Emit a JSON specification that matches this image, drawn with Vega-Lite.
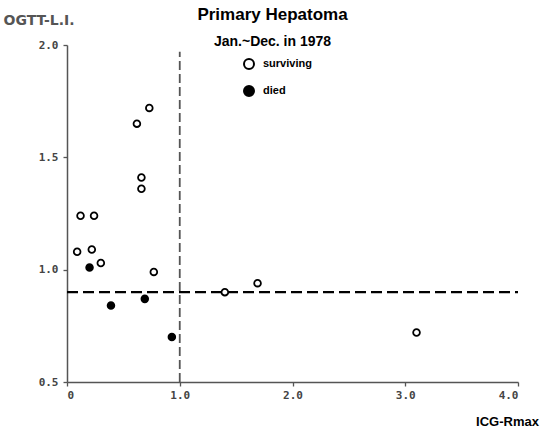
{
  "$schema": "https://vega.github.io/schema/vega-lite/v6.json",
  "width": 451,
  "height": 337,
  "autosize": "none",
  "padding": {"left": 67, "top": 45, "right": 30, "bottom": 47},
  "background": "white",
  "title": {
    "text": "Primary Hepatoma",
    "subtitle": "Jan.~Dec. in 1978",
    "anchor": "middle",
    "frame": "group",
    "dx": -20,
    "offset": -37,
    "font": "Liberation Sans",
    "fontSize": 17,
    "fontWeight": "bold",
    "color": "black",
    "subtitleFont": "Liberation Sans",
    "subtitleFontSize": 14,
    "subtitleFontWeight": "bold",
    "subtitleColor": "black",
    "subtitlePadding": 11
  },
  "config": {
    "view": {"stroke": null},
    "axis": {
      "grid": false,
      "domainColor": "#555",
      "domainWidth": 1.5,
      "tickColor": "#555",
      "tickWidth": 1.3,
      "tickSize": 4,
      "labelFont": "DejaVu Sans Mono",
      "labelFontWeight": "bold",
      "labelFontSize": 11,
      "labelColor": "#444"
    },
    "legend": {
      "orient": "none",
      "legendX": 176,
      "legendY": 13,
      "padding": 0,
      "rowPadding": 9,
      "labelFont": "Liberation Sans",
      "labelFontSize": 11,
      "labelFontWeight": "bold",
      "labelColor": "black",
      "labelOffset": 8,
      "symbolStrokeColor": "black",
      "symbolStrokeWidth": 2,
      "symbolSize": 100,
      "symbolType": "circle"
    }
  },
  "layer": [
    {
      "data": {"values": [{"ICG": 0, "ICG2": 4, "OGTT": 0.9}]},
      "mark": {"type": "rule", "color": "black", "strokeWidth": 2.2, "strokeDash": [11, 5]},
      "encoding": {
        "x": {"field": "ICG", "type": "quantitative", "scale": {"domain": [0, 4], "nice": false},
          "axis": {"values": [0, 1, 2, 3, 4], "labelExpr": "datum.value == 0 ? '0' : format(datum.value, '.1f')", "labelPadding": 3, "title": "ICG-Rmax", "titleX": 440, "titleY": 39, "titleAlign": "center", "titleBaseline": "middle", "titleFont": "Liberation Sans", "titleFontSize": 13, "titleFontWeight": "bold", "titleColor": "black"}},
        "x2": {"field": "ICG2"},
        "y": {"field": "OGTT", "type": "quantitative", "scale": {"domain": [0.5, 2], "nice": false, "zero": false},
          "axis": {"values": [0.5, 1, 1.5, 2], "format": ".1f", "labelPadding": 5, "title": "OGTT-L.I.", "titleAngle": 0, "titleX": -64, "titleY": -25, "titleAlign": "left", "titleBaseline": "middle", "titleFont": "DejaVu Sans", "titleFontSize": 14, "titleFontWeight": "bold", "titleColor": "#555"}}
      }
    },
    {
      "data": {"values": [{"ICG": 1, "OGTT": 0.5, "OGTT2": 1.97}]},
      "mark": {"type": "rule", "color": "#555", "strokeWidth": 1.8, "strokeDash": [9, 4]},
      "encoding": {
        "x": {"field": "ICG", "type": "quantitative", "scale": {"domain": [0, 4], "nice": false},
          "axis": {"values": [0, 1, 2, 3, 4], "labelExpr": "datum.value == 0 ? '0' : format(datum.value, '.1f')", "labelPadding": 3, "title": "ICG-Rmax", "titleX": 440, "titleY": 39, "titleAlign": "center", "titleBaseline": "middle", "titleFont": "Liberation Sans", "titleFontSize": 13, "titleFontWeight": "bold", "titleColor": "black"}},
        "y": {"field": "OGTT", "type": "quantitative", "scale": {"domain": [0.5, 2], "nice": false, "zero": false},
          "axis": {"values": [0.5, 1, 1.5, 2], "format": ".1f", "labelPadding": 5, "title": "OGTT-L.I.", "titleAngle": 0, "titleX": -64, "titleY": -25, "titleAlign": "left", "titleBaseline": "middle", "titleFont": "DejaVu Sans", "titleFontSize": 14, "titleFontWeight": "bold", "titleColor": "#555"}},
        "y2": {"field": "OGTT2"}
      }
    },
    {
      "data": {"values": [
        {"ICG": 0.09, "OGTT": 1.08, "status": "surviving"},
        {"ICG": 0.12, "OGTT": 1.24, "status": "surviving"},
        {"ICG": 0.24, "OGTT": 1.24, "status": "surviving"},
        {"ICG": 0.22, "OGTT": 1.09, "status": "surviving"},
        {"ICG": 0.30, "OGTT": 1.03, "status": "surviving"},
        {"ICG": 0.77, "OGTT": 0.99, "status": "surviving"},
        {"ICG": 0.62, "OGTT": 1.65, "status": "surviving"},
        {"ICG": 0.73, "OGTT": 1.72, "status": "surviving"},
        {"ICG": 0.66, "OGTT": 1.41, "status": "surviving"},
        {"ICG": 0.66, "OGTT": 1.36, "status": "surviving"},
        {"ICG": 1.40, "OGTT": 0.90, "status": "surviving"},
        {"ICG": 1.69, "OGTT": 0.94, "status": "surviving"},
        {"ICG": 3.10, "OGTT": 0.72, "status": "surviving"},
        {"ICG": 0.20, "OGTT": 1.01, "status": "died"},
        {"ICG": 0.39, "OGTT": 0.84, "status": "died"},
        {"ICG": 0.69, "OGTT": 0.87, "status": "died"},
        {"ICG": 0.93, "OGTT": 0.70, "status": "died"}
      ]},
      "mark": {"type": "point", "shape": "circle", "filled": true, "stroke": "black", "strokeWidth": 1.8, "size": 45, "opacity": 1},
      "encoding": {
        "x": {"field": "ICG", "type": "quantitative", "scale": {"domain": [0, 4], "nice": false},
          "axis": {"values": [0, 1, 2, 3, 4], "labelExpr": "datum.value == 0 ? '0' : format(datum.value, '.1f')", "labelPadding": 3, "title": "ICG-Rmax", "titleX": 440, "titleY": 39, "titleAlign": "center", "titleBaseline": "middle", "titleFont": "Liberation Sans", "titleFontSize": 13, "titleFontWeight": "bold", "titleColor": "black"}},
        "y": {"field": "OGTT", "type": "quantitative", "scale": {"domain": [0.5, 2], "nice": false, "zero": false},
          "axis": {"values": [0.5, 1, 1.5, 2], "format": ".1f", "labelPadding": 5, "title": "OGTT-L.I.", "titleAngle": 0, "titleX": -64, "titleY": -25, "titleAlign": "left", "titleBaseline": "middle", "titleFont": "DejaVu Sans", "titleFontSize": 14, "titleFontWeight": "bold", "titleColor": "#555"}},
        "fill": {"field": "status", "type": "nominal", "scale": {"domain": ["surviving", "died"], "range": ["white", "black"]}, "legend": {"title": null}}
      }
    }
  ]
}
